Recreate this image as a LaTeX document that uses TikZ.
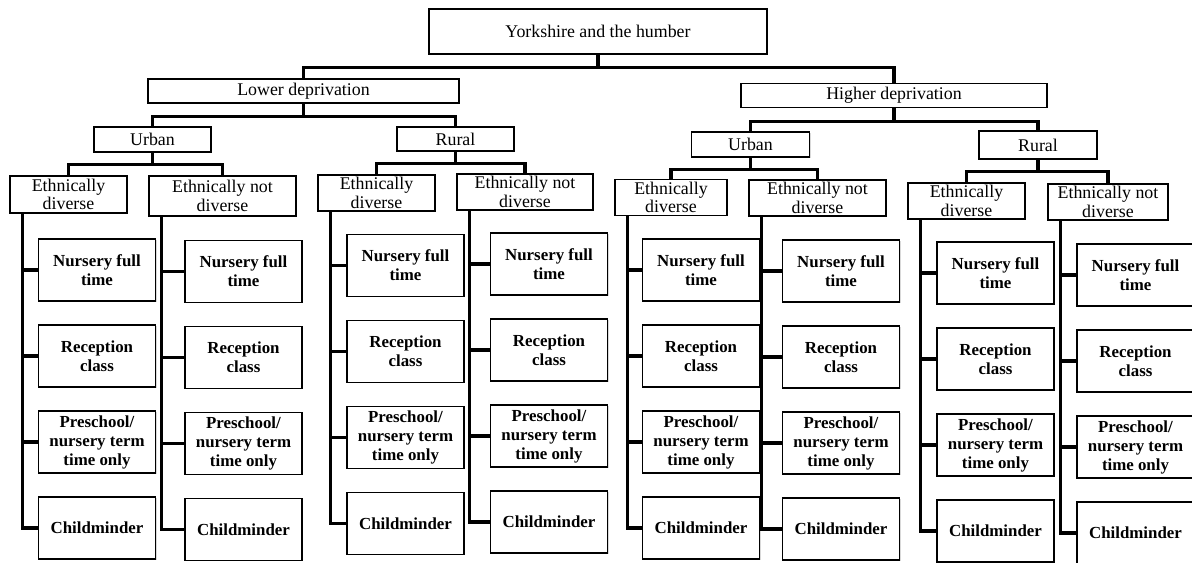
\documentclass[tikz,border=0pt]{standalone}
\usepackage{fontspec}
\setmainfont{Liberation Serif}
\usetikzlibrary{shadows}
\begin{document}
\begin{tikzpicture}[x=0.025cm,y=-0.025cm]
	
	% Style for the boxes
	\tikzstyle{box}=[
	rectangle,
	draw,
	fill=white,
	line width=0.9pt,
	inner sep=1pt,
	align=center,
	font=\fontsize{12.7}{13}\selectfont,
	drop shadow={shadow xshift=0.7pt,shadow yshift=-0.7pt,opacity=0.3}
	]
	\tikzstyle{leaf}=[box, font=\bfseries\fontsize{12}{13.5}\selectfont, minimum width=2.925cm, minimum height=1.55cm]
	\tikzstyle{conn}=[line width=2.2pt]
	\useasboundingbox (0,0) rectangle (1192,563);
	
	\node[box, minimum width=8.45cm, minimum height=1.125cm] (YH) at (598,31.5) {Yorkshire and the humber};
	% --- First row ---
	\node[box, minimum width=7.775cm, minimum height=0.6cm] (LD) at (303.5,91) {Lower deprivation};
	\node[box, minimum width=7.65cm, minimum height=0.6cm] (HD) at (894,95.5) {Higher deprivation};
	
	% --- Second row ---
	\node[box, minimum width=2.925cm, minimum height=0.625cm] (LU) at (152.5,139.5) {Urban};
	\node[box, minimum width=2.925cm, minimum height=0.6cm] (LR) at (455.5,139) {Rural};
	\node[box, minimum width=2.95cm, minimum height=0.625cm] (HU) at (750.5,144.5) {Urban};
	\node[box, minimum width=2.95cm, minimum height=0.7cm] (HR) at (1038,145) {Rural};
	
	% --- Third row ---
	\node[box, minimum width=2.925cm, minimum height=0.925cm] (ED1) at (68.5,194.5) {Ethnically\\diverse};
	\node[box, minimum width=3.675cm, minimum height=1cm] (ENd1) at (222.5,196) {Ethnically not\\diverse};
	\node[box, minimum width=2.925cm, minimum height=0.9cm] (ED2) at (376.5,193) {Ethnically\\diverse};
	\node[box, minimum width=3.4cm, minimum height=0.9cm] (ENd2) at (525,192) {Ethnically not\\diverse};
	\node[box, minimum width=2.8cm, minimum height=0.9cm] (ED3) at (671,197.5) {Ethnically\\diverse};
	\node[box, minimum width=3.425cm, minimum height=0.9cm] (ENd3) at (817.5,198) {Ethnically not\\diverse};
	\node[box, minimum width=2.925cm, minimum height=0.9cm] (ED4) at (966.5,201) {Ethnically\\diverse};
	\node[box, minimum width=3cm, minimum height=0.9cm] (ENd4) at (1108,202) {Ethnically not\\diverse};
	
	\draw[conn] (YH.south) -- ++(0,13) -| (LD.north);
	\draw[conn] (YH.south) -- ++(0,13) -| (HD.north);
	\draw[conn] (LD.south) -- ++(0,13) -| (LU.north);
	\draw[conn] (LD.south) -- ++(0,13) -| (LR.north);
	\draw[conn] (HD.south) -- ++(0,13) -| (HU.north);
	\draw[conn] (HD.south) -- ++(0,13) -| (HR.north);
	\draw[conn] (LU.south) -- ++(0,12) -| (ED1.north);
	\draw[conn] (LU.south) -- ++(0,12) -| (ENd1.north);
	\draw[conn] (LR.south) -- ++(0,12) -| (ED2.north);
	\draw[conn] (LR.south) -- ++(0,12) -| (ENd2.north);
	\draw[conn] (HU.south) -- ++(0,12) -| (ED3.north);
	\draw[conn] (HU.south) -- ++(0,12) -| (ENd3.north);
	\draw[conn] (HR.south) -- ++(0,12) -| (ED4.north);
	\draw[conn] (HR.south) -- ++(0,12) -| (ENd4.north);
	
	% --- Care types under each group ---
	\foreach \p/\n/\x/\y in {ED1/1/97/270, ENd1/2/243.5/271.5, ED2/3/405.5/265.5, ENd2/4/549/264,
		ED3/5/701/270, ENd3/6/841/271, ED4/7/995.5/273, ENd4/8/1135.5/275}{
		\node[leaf] (NF\n) at (\x,\y) {Nursery full\\time};
		\node[leaf] (RC\n) at (\x,\y+86) {Reception\\class};
		\node[leaf] (PT\n) at (\x,\y+172) {Preschool/\\nursery term\\time only};
		\node[leaf] (CM\n) at (\x,\y+258) {Childminder};
		\coordinate (sp\n) at ([xshift=0.325cm]\p.south west);
		\foreach \l in {NF,RC,PT,CM}
			\draw[conn] (sp\n) |- (\l\n.west);
	}
\end{tikzpicture}
\end{document}
